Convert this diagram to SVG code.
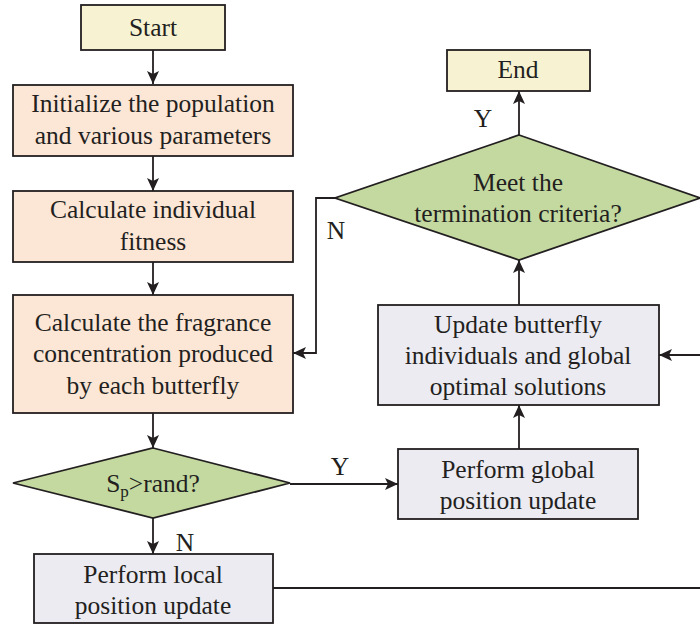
<svg xmlns="http://www.w3.org/2000/svg" width="700" height="625" viewBox="0 0 700 625">
<defs>
<marker id="arr" markerUnits="userSpaceOnUse" markerWidth="14" markerHeight="14" viewBox="0 0 14 14" refX="13" refY="7" orient="auto">
<path d="M0,1 L13,7 L0,13 L3,7 Z" fill="#231f20"/>
</marker>
</defs>
<style>
rect,polygon{stroke:#231f20;stroke-width:1.8}
.y{fill:#f7f3d2}
.o{fill:#fce6d6}
.g{fill:#c4d9a0}
.p{fill:#ecebf2}
text{fill:#231f20;text-anchor:middle}
.c path{fill:none;stroke:#231f20;stroke-width:1.8}
</style>
<g font-family="'Liberation Serif', 'Times New Roman', serif" font-size="25.5">
<g class="c" id="connectors">
<path d="M153,50 V84" marker-end="url(#arr)"/>
<path d="M153,156 V191" marker-end="url(#arr)"/>
<path d="M153,262 V295" marker-end="url(#arr)"/>
<path d="M153,413 V448" marker-end="url(#arr)"/>
<path d="M153,518 V554" marker-end="url(#arr)"/>
<path d="M290,484 H398" marker-end="url(#arr)"/>
<path d="M519,449 V405" marker-end="url(#arr)"/>
<path d="M519,305 V260" marker-end="url(#arr)"/>
<path d="M519,135 V91" marker-end="url(#arr)"/>
<path d="M335,198 H316 V353 H293" marker-end="url(#arr)"/>
<path d="M700,355 H659" marker-end="url(#arr)"/>
<path d="M273,588 H700"/>
<text x="483" y="127">Y</text>
<text x="336" y="239">N</text>
<text x="340" y="475">Y</text>
<text x="185" y="551">N</text>
</g>
<g id="start"><rect class="y" x="81" y="5" width="144" height="45"/><text x="153" y="36">Start</text></g>
<g id="init"><rect class="o" x="13" y="85" width="280" height="71"/><text x="153" y="112">Initialize the population</text><text x="153" y="144">and various parameters</text></g>
<g id="fitness"><rect class="o" x="13" y="191" width="280" height="71"/><text x="153" y="218">Calculate individual</text><text x="153" y="250">fitness</text></g>
<g id="fragrance"><rect class="o" x="13" y="295" width="280" height="118"/><text x="153" y="331">Calculate the fragrance</text><text x="153" y="362">concentration produced</text><text x="153" y="394">by each butterfly</text></g>
<g id="sp"><polygon class="g" points="153,448 290,483 153,518 13,483"/><text x="153" y="492">S<tspan font-size="17" dy="5">p</tspan><tspan dy="-5">&gt;rand?</tspan></text></g>
<g id="local"><rect class="p" x="34" y="554" width="239" height="69"/><text x="153" y="583">Perform local</text><text x="153" y="614">position update</text></g>
<g id="global"><rect class="p" x="398" y="449" width="240" height="70"/><text x="518" y="478">Perform global</text><text x="518" y="509">position update</text></g>
<g id="update"><rect class="p" x="378" y="305" width="281" height="100"/><text x="518" y="333">Update butterfly</text><text x="518" y="364">individuals and global</text><text x="518" y="395">optimal solutions</text></g>
<g id="meet"><polygon class="g" points="519,135 700,198 519,260 335,198"/><text x="518" y="191">Meet the</text><text x="518" y="222">termination criteria?</text></g>
<g id="end"><rect class="y" x="447" y="50" width="143" height="41"/><text x="518" y="78">End</text></g>
</g>
</svg>
